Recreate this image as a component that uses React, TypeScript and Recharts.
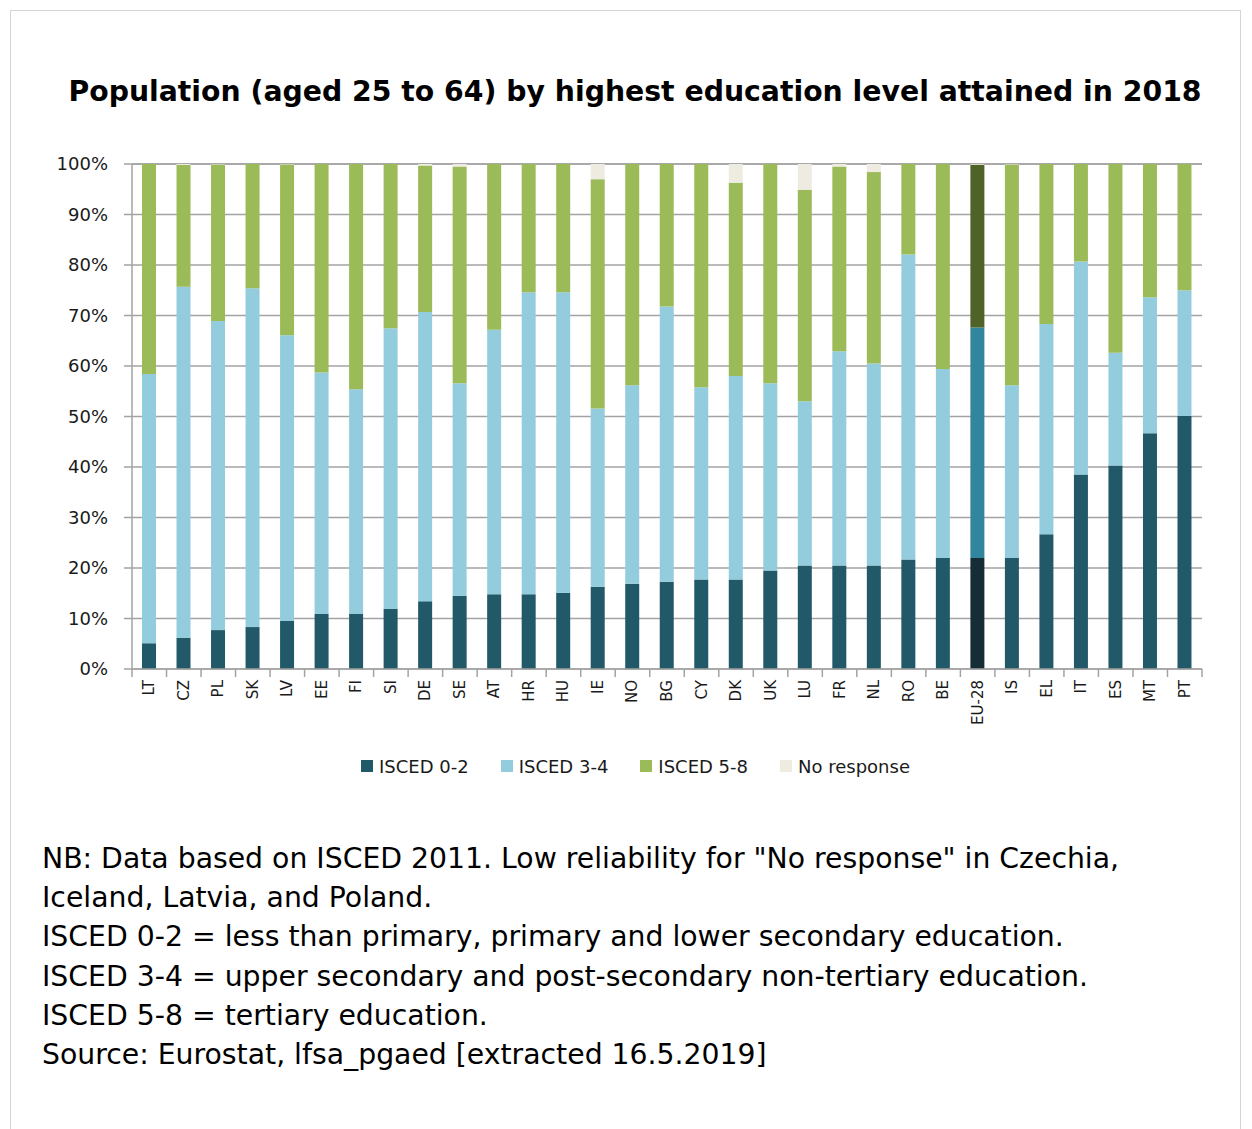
import { Bar, BarChart, CartesianGrid, Cell, XAxis, YAxis } from "recharts";

const countries = ["LT", "CZ", "PL", "SK", "LV", "EE", "FI", "SI", "DE", "SE", "AT", "HR", "HU", "IE", "NO", "BG", "CY", "DK", "UK", "LU", "FR", "NL", "RO", "BE", "EU-28", "IS", "EL", "IT", "ES", "MT", "PT"];
const isced02 = [5.1, 6.2, 7.7, 8.3, 9.5, 10.9, 10.9, 11.9, 13.4, 14.5, 14.8, 14.8, 15.1, 16.3, 16.9, 17.3, 17.7, 17.7, 19.5, 20.5, 20.5, 20.5, 21.7, 22.0, 22.0, 22.0, 26.7, 38.5, 40.3, 46.7, 50.1];
const isced34 = [53.3, 69.5, 61.2, 67.1, 56.6, 47.8, 44.5, 55.6, 57.3, 42.1, 52.4, 59.8, 59.5, 35.3, 39.3, 54.5, 38.1, 40.3, 37.1, 32.5, 42.4, 40.0, 60.4, 37.4, 45.6, 34.2, 41.6, 42.2, 22.3, 26.9, 24.9];
const isced58 = [41.6, 24.1, 31.0, 24.6, 33.8, 41.3, 44.6, 32.5, 29.0, 42.9, 32.8, 25.4, 25.4, 45.4, 43.8, 28.2, 44.2, 38.3, 43.4, 41.9, 36.6, 37.9, 17.9, 40.6, 32.2, 43.7, 31.7, 19.3, 37.4, 26.4, 25.0];
const noResponse = [0, 0.2, 0.1, 0, 0.1, 0, 0, 0, 0.3, 0.5, 0, 0, 0, 3.0, 0, 0, 0, 3.7, 0, 5.1, 0.5, 1.6, 0, 0, 0.2, 0.1, 0, 0, 0, 0, 0];
const yTicks = [0, 10, 20, 30, 40, 50, 60, 70, 80, 90, 100];

const COLORS = { low: "#215968", mid: "#93cddd", high: "#9bbb59", nr: "#eeece1" };
const EU_COLORS = { low: "#162d35", mid: "#31859c", high: "#4f6228", nr: "#ddd9c3" };

const data = countries.map((c, i) => ({
  country: c,
  low: isced02[i],
  mid: isced34[i],
  high: isced58[i],
  nr: noResponse[i],
}));

const legendItems = [
  { label: "ISCED 0-2", color: COLORS.low },
  { label: "ISCED 3-4", color: COLORS.mid },
  { label: "ISCED 5-8", color: COLORS.high },
  { label: "No response", color: COLORS.nr },
];

const notes = [
  'NB: Data based on ISCED 2011. Low reliability for "No response" in Czechia,',
  "Iceland, Latvia, and Poland.",
  "ISCED 0-2 = less than primary, primary and lower secondary education.",
  "ISCED 3-4 = upper secondary and post-secondary non-tertiary education.",
  "ISCED 5-8 = tertiary education.",
  "Source: Eurostat, lfsa_pgaed [extracted 16.5.2019]",
];

const GRID = "#a3a3a3";

// tick label plus a tick mark on the left edge of each category band
function CountryTick(props: any) {
  const { x, y, payload, index, width, visibleTicksCount } = props;
  const step = (width || 1070) / (visibleTicksCount || countries.length);
  const base = y - 11;
  return (
    <g>
      <line x1={x - step / 2} x2={x - step / 2} y1={base} y2={base + 8} stroke={GRID} strokeWidth={1.5} />
      {index === countries.length - 1 && (
        <line x1={x + step / 2} x2={x + step / 2} y1={base} y2={base + 8} stroke={GRID} strokeWidth={1.5} />
      )}
      <text
        transform={`translate(${x + 5},${y}) rotate(-90)`}
        textAnchor="end"
        fontSize={15}
        fontFamily="DejaVu Sans"
        fill="#1a1a1a"
      >
        {payload.value}
      </text>
    </g>
  );
}

function series(key: "low" | "mid" | "high" | "nr") {
  return (
    <Bar dataKey={key} stackId="a" fill={COLORS[key]} barSize={14} isAnimationActive={false}>
      {data.map((d) => (
        <Cell key={d.country} fill={d.country === "EU-28" ? EU_COLORS[key] : COLORS[key]} />
      ))}
    </Bar>
  );
}

export default function App() {
  return (
    <div style={{ position: "relative", width: 1236, height: 1121, fontFamily: "DejaVu Sans", background: "#fff" }}>
      <div
        style={{
          position: "absolute",
          left: 2,
          top: 2,
          width: 1229,
          height: 1140,
          border: "1px solid #d4d4d4",
          borderBottom: "none",
        }}
      />
      <div
        style={{
          position: "absolute",
          left: 27,
          top: 69,
          width: 1200,
          textAlign: "center",
          fontWeight: "bold",
          fontSize: 28.3,
          lineHeight: "30px",
          color: "#000",
        }}
      >
        Population (aged 25 to 64) by highest education level attained in 2018
      </div>

      <div style={{ position: "absolute", left: 12, top: 132 }}>
        <BarChart width={1200} height={599} data={data} margin={{ top: 24, right: 18, left: 0, bottom: 0 }}>
          <CartesianGrid vertical={false} stroke={GRID} strokeWidth={1.5} />
          <XAxis
            dataKey="country"
            interval={0}
            height={70}
            tickSize={8}
            tickMargin={3}
            tickLine={false}
            axisLine={{ stroke: GRID, strokeWidth: 1.5 }}
            tick={<CountryTick />}
          />
          <YAxis
            width={112}
            domain={[0, 100]}
            ticks={yTicks}
            interval={0}
            tickFormatter={(v: number) => `${v}%`}
            tickSize={8}
            tickMargin={16}
            tickLine={{ stroke: GRID, strokeWidth: 1.5 }}
            axisLine={{ stroke: GRID, strokeWidth: 1.5 }}
            tick={{ fontSize: 18, fontFamily: "DejaVu Sans", fill: "#1a1a1a" }}
          />
          {series("low")}
          {series("mid")}
          {series("high")}
          {series("nr")}
        </BarChart>
      </div>

      <div
        style={{
          position: "absolute",
          left: 353,
          top: 746,
          height: 24,
          display: "flex",
          alignItems: "center",
          gap: 32,
          fontSize: 18,
          color: "#1a1a1a",
        }}
      >
        {legendItems.map((it) => (
          <div key={it.label} style={{ display: "flex", alignItems: "center" }}>
            <span style={{ width: 12, height: 12, background: it.color, marginRight: 6, display: "inline-block" }} />
            <span>{it.label}</span>
          </div>
        ))}
      </div>

      <div
        style={{
          position: "absolute",
          left: 34,
          top: 831,
          fontSize: 28.3,
          lineHeight: "39.2px",
          color: "#000",
        }}
      >
        {notes.map((n) => (
          <div key={n}>{n}</div>
        ))}
      </div>
    </div>
  );
}
